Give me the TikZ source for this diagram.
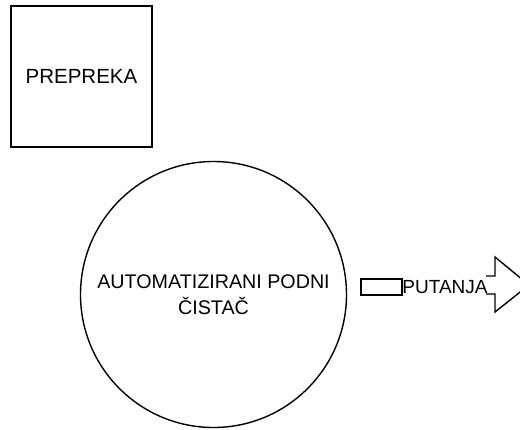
\documentclass[tikz,border=0pt]{standalone}
\usepackage{fontspec}
\setmainfont{Liberation Sans}
\begin{document}
\begin{tikzpicture}[x=1pt,y=-1pt,
  shapeline/.style={draw=black,line width=1.4pt},
  lbl/.style={font=\fontsize{19.7}{26}\selectfont,align=center,inner sep=0pt}]
\useasboundingbox (0,0) rectangle (520,429);
\clip (0,0) rectangle (520,429);
\fill[white] (0,0) rectangle (520,429);
\node[shapeline,rectangle,minimum width=141pt,minimum height=141pt,inner sep=0pt] (prep) at (81.5,76.5) {};
\node[lbl,font=\fontsize{20.5}{26}\selectfont] (preptext) at (prep.center) {PREPREKA};
\node[shapeline,circle,minimum size=266pt,inner sep=0pt] (robot) at (213.5,294.5) {};
\node[lbl] (robottext) at (robot.center) {AUTOMATIZIRANI PODNI\\ČISTAČ};
\node[shapeline,rectangle,minimum width=41pt,minimum height=16pt,inner sep=0pt] (tail) at (381.5,287) {};
\node[lbl,font=\fontsize{19}{22}\selectfont] (path) at (445,287) {PUTANJA};
\coordinate (head) at (495,285);
\draw[shapeline,line join=miter]
  ([xshift=-9pt,yshift=-9pt]head) -- ([yshift=-9pt]head) -- ([yshift=-27pt]head)
  -- ([xshift=34pt]head) -- ([yshift=28pt]head) -- ([yshift=9pt]head)
  -- ([xshift=-9pt,yshift=9pt]head);
\end{tikzpicture}
\end{document}
